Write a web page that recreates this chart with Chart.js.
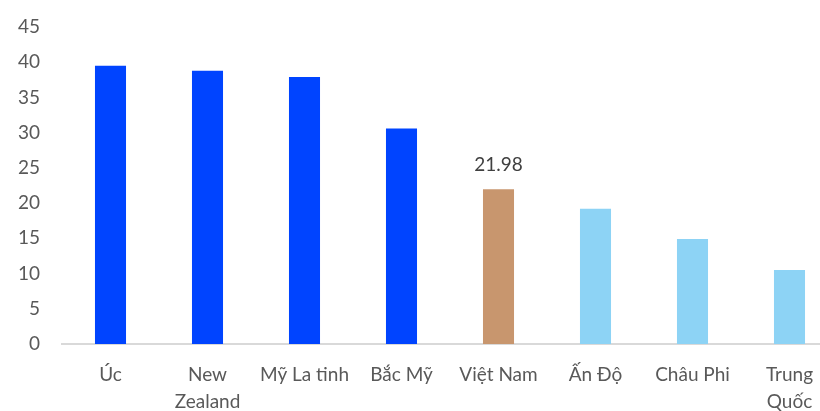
<!DOCTYPE html>
<html>
<head>
<meta charset="utf-8">
<script src="https://cdn.jsdelivr.net/npm/chart.js@4"></script>
<style>
    html, body { margin: 0; padding: 0; background: #fff; overflow: hidden; }
    #wrap { width: 842px; height: 411px; }
</style>
</head>
<body>
<div id="wrap"><canvas id="chart" width="842" height="411"></canvas></div>
<script>
const categories = ['Úc', ['New', 'Zealand'], 'Mỹ La tinh', 'Bắc Mỹ', 'Việt Nam', 'Ấn Độ', 'Châu Phi', ['Trung', 'Quốc']];
const values = [39.5, 38.8, 37.9, 30.6, 21.98, 19.2, 14.9, 10.5];
const barColors = ['#0044ff', '#0044ff', '#0044ff', '#0044ff', '#c8966e', '#8dd3f5', '#8dd3f5', '#8dd3f5'];
const labelledIndex = 4;

const textColor = '#595959';
const fontFamily = 'Lato, "Noto Sans", sans-serif';

const valueLabel = {
    id: 'valueLabel',
    afterDatasetsDraw(chart) {
        const ctx = chart.ctx;
        const bar = chart.getDatasetMeta(0).data[labelledIndex];
        ctx.save();
        ctx.font = '19px ' + fontFamily;
        ctx.fillStyle = '#404040';
        ctx.textAlign = 'center';
        ctx.textBaseline = 'middle';
        ctx.fillText(values[labelledIndex].toFixed(2), bar.x, bar.y - 24);
        ctx.restore();
    }
};

new Chart(document.getElementById('chart'), {
    type: 'bar',
    data: {
        labels: categories,
        datasets: [{
            data: values,
            backgroundColor: barColors,
            barPercentage: 0.32,
            categoryPercentage: 1
        }]
    },
    options: {
        responsive: false,
        animation: false,
        layout: { padding: { top: 27, right: 4, left: 0, bottom: 0 } },
        plugins: {
            legend: { display: false },
            tooltip: { enabled: false }
        },
        scales: {
            x: {
                grid: { display: false, drawTicks: false },
                border: { color: '#d9d9d9', width: 2 },
                afterFit: scale => { scale.height = 67; },
                ticks: {
                    color: textColor,
                    font: { family: fontFamily, size: 19, lineHeight: 1.45 },
                    padding: 17,
                    maxRotation: 0,
                    autoSkip: false
                }
            },
            y: {
                min: 0,
                max: 45,
                grid: { display: false, drawTicks: false },
                border: { display: false },
                afterFit: scale => { scale.width = 62; scale.paddingTop = 0; },
                ticks: {
                    stepSize: 5,
                    color: textColor,
                    font: { family: fontFamily, size: 19, lineHeight: 0.5 },
                    padding: 22
                }
            }
        }
    },
    plugins: [valueLabel]
});
</script>
</body>
</html>
